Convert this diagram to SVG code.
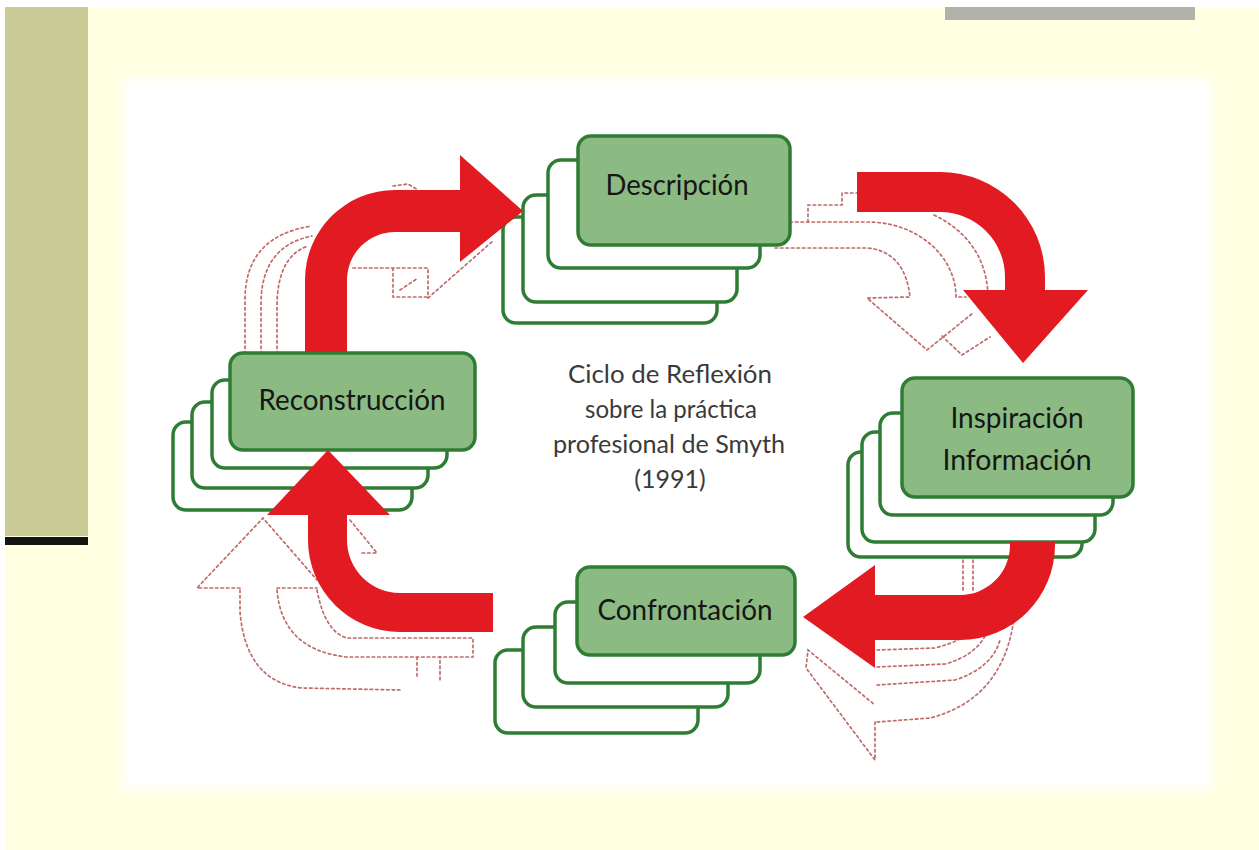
<svg xmlns="http://www.w3.org/2000/svg" width="1259" height="850" viewBox="0 0 1259 850">
<defs>
<filter id="soft" x="-5%" y="-5%" width="110%" height="110%"><feGaussianBlur stdDeviation="5"/></filter>
<style>
.back{fill:#ffffff;stroke:#2f7d35;stroke-width:3.5}
.front{fill:#8bbb83;stroke:#2f7d35;stroke-width:3.5}
.lbl{font-family:Lato,"Open Sans","Liberation Sans",sans-serif;font-size:28px;fill:#161616;text-anchor:middle}
.ctr{font-family:Lato,"Open Sans","Liberation Sans",sans-serif;font-size:25px;fill:#3a3a3a;text-anchor:middle}
.arrow{fill:#e21b22}
.ghost{fill:none;stroke:#c06a6a;stroke-width:1.7;stroke-dasharray:2.5 3;stroke-linecap:round}
</style>
</defs>
<rect x="0" y="0" width="1259" height="850" fill="#ffffff"/>
<rect x="5" y="7" width="1254" height="843" fill="#ffffe1"/>
<rect x="122" y="78" width="1090" height="712" fill="#ffffff" filter="url(#soft)"/>
<rect x="5" y="7" width="83" height="529" fill="#cbcb98"/>
<rect x="5" y="537" width="83" height="8" fill="#141414"/>
<rect x="945" y="7" width="250" height="13" fill="#b3b2aa"/>

<g id="ghosts" class="ghost">
<path d="M245,365 L245,300 Q245,236 312,226"/>
<path d="M261,365 L261,302 Q262,246 312,236"/>
<path d="M277,365 L277,304 Q278,256 308,246"/>
<path d="M393,186 L408,184 L418,190"/>
<path d="M353,268 L428,268 L428,297 M393,268 L393,297 L428,297 M400,290 L418,278 M428,298 L494,240"/>
<path d="M808,222 L808,205 L842,205 L842,193 L857,193"/>
<path d="M790,222 L868,222 A88,75 0 0 1 956,297 L966,297"/>
<path d="M934,215 Q985,240 988,294"/>
<path d="M775,248 L868,248 Q905,252 910,297 L867,298 L927,350 L973,313"/>
<path d="M942,336 L962,355 L990,337"/>
<path d="M963,560 L963,590 M973,560 L973,590"/>
<path d="M877,650 L935,648 Q965,640 975,628"/>
<path d="M877,667 L945,664 Q978,655 988,630"/>
<path d="M877,685 L955,680 Q992,668 1000,640"/>
<path d="M877,722 L930,718 Q1000,700 1013,625 L1013,615"/>
<path d="M875,722 L875,760 L806,668 L808,650 L875,705"/>
<path d="M240,588 L197,588 L263,518 L317,580"/>
<path d="M277,588 L317,588"/>
<path d="M240,590 L240,612 Q246,682 302,688 L400,690"/>
<path d="M277,590 Q282,650 347,657 L440,657 L440,680 M417,657 L417,678"/>
<path d="M317,590 Q325,632 347,638 L473,638 L473,657 L440,657"/>
<path d="M350,520 L377,553 L360,553"/>
</g>

<g id="node-descripcion">
<rect class="back" x="503" y="217" width="214" height="106" rx="13"/>
<rect class="back" x="523" y="195" width="214" height="107" rx="13"/>
<rect class="back" x="548" y="160" width="212" height="108" rx="13"/>
<rect class="front" x="578" y="136" width="212" height="109" rx="13"/>
<text class="lbl" x="677" y="195" textLength="143" lengthAdjust="spacingAndGlyphs">Descripción</text>
</g>

<g id="node-inspiracion">
<rect class="back" x="848" y="452" width="234" height="105" rx="13"/>
<rect class="back" x="862" y="432" width="233" height="110" rx="13"/>
<rect class="back" x="880" y="413" width="233" height="102" rx="13"/>
<rect class="front" x="902" y="378" width="231" height="119" rx="13"/>
<text class="lbl" x="1017" y="428" textLength="133" lengthAdjust="spacingAndGlyphs">Inspiración</text>
<text class="lbl" x="1017" y="470" textLength="149" lengthAdjust="spacingAndGlyphs">Información</text>
</g>

<g id="node-confrontacion">
<rect class="back" x="495" y="650" width="203" height="83" rx="13"/>
<rect class="back" x="523" y="627" width="205" height="80" rx="13"/>
<rect class="back" x="555" y="602" width="205" height="81" rx="13"/>
<rect class="front" x="577" y="567" width="218" height="88" rx="13"/>
<text class="lbl" x="685" y="620" textLength="175" lengthAdjust="spacingAndGlyphs">Confrontación</text>
</g>

<g id="node-reconstruccion">
<rect class="back" x="173" y="422" width="239" height="88" rx="13"/>
<rect class="back" x="192" y="402" width="236" height="86" rx="13"/>
<rect class="back" x="212" y="380" width="235" height="88" rx="13"/>
<rect class="front" x="230" y="353" width="245" height="97" rx="13"/>
<text class="lbl" x="352" y="410" textLength="187" lengthAdjust="spacingAndGlyphs">Reconstrucción</text>
</g>

<g id="title">
<text class="ctr" x="670" y="383" textLength="204" lengthAdjust="spacingAndGlyphs">Ciclo de Reflexión</text>
<text class="ctr" x="671" y="418" textLength="172" lengthAdjust="spacingAndGlyphs">sobre la práctica</text>
<text class="ctr" x="669" y="453" textLength="232" lengthAdjust="spacingAndGlyphs">profesional de Smyth</text>
<text class="ctr" x="670" y="488">(1991)</text>
</g>

<g id="connectors">
<path class="arrow" d="M305,352 L305,280 A90,90 0 0 1 395,190 L460,190 L460,155 L523,211 L460,262 L460,232 L395,232 A48,48 0 0 0 347,280 L347,352 Z"/>
<path class="arrow" d="M857,172 L940,172 A105,105 0 0 1 1045,277 L1045,290 L1088,290 L1023,363 L963,290 L1005,290 L1005,277 A65,65 0 0 0 940,212 L857,212 Z"/>
<path class="arrow" d="M1055,542 L1055,545 A95,95 0 0 1 960,640 L875,640 L875,668 L803,617 L875,565 L875,595 L960,595 A50,50 0 0 0 1010,545 L1010,542 Z"/>
<path class="arrow" d="M493,593 L400,593 A53,53 0 0 1 347,540 L347,515 L390,515 L328,450 L267,515 L308,515 L308,540 A92,92 0 0 0 400,632 L493,632 Z"/>
</g>
</svg>
